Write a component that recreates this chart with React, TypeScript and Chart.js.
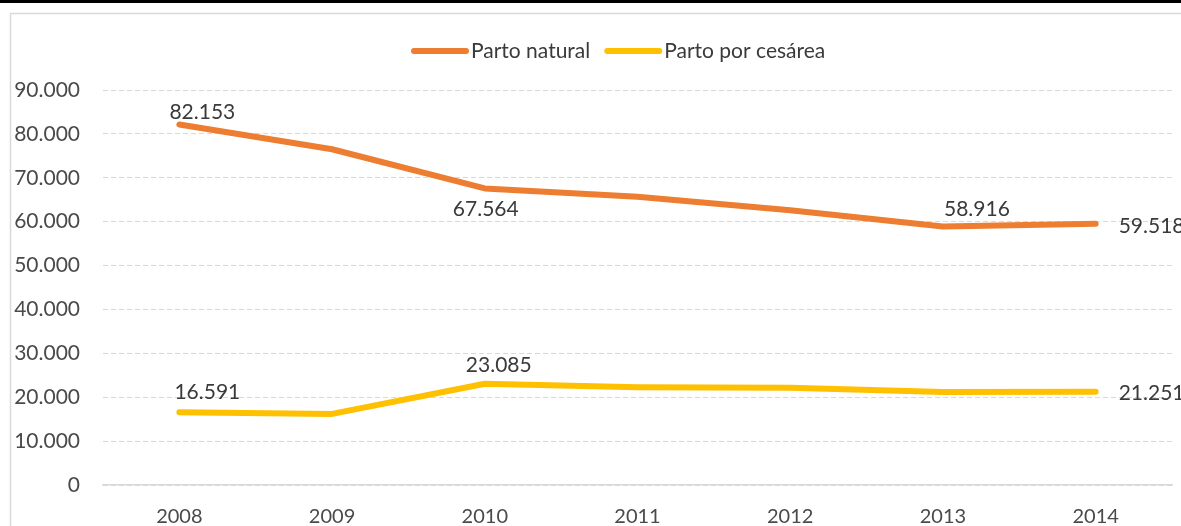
import React, { useEffect, useRef } from "react";
import { Chart, registerables } from "chart.js";

Chart.register(...registerables);

// ---- data ----
const years = ["2008", "2009", "2010", "2011", "2012", "2013", "2014"];
const partoNatural = [82153, 76500, 67564, 65700, 62600, 58916, 59518];
const partoCesarea = [16591, 16200, 23085, 22250, 22150, 21200, 21251];
const naturalLabelShown = [true, false, true, false, false, true, true];
const cesareaLabelShown = [true, false, true, false, false, false, true];
const seriesNames = ["Parto natural", "Parto por cesárea"];
const yMax = 90000;
const yStep = 10000;

// ---- styles / layout ----
const ORANGE = "#ED7D31";
const YELLOW = "#FFC000";
const FONT = "Lato, 'Open Sans', sans-serif";
// label offsets relative to the point: [dx, dy, align]
const LABEL_OFFSETS: Record<number, [number, number, CanvasTextAlign]>[] = [
  { 0: [23, -12, "center"], 2: [1, 21, "center"], 5: [34, -17, "center"], 6: [23, 2, "left"] },
  { 0: [28, -20, "center"], 2: [14, -18, "center"], 6: [23, 2, "left"] },
];
const LABEL_SHOWN = [naturalLabelShown, cesareaLabelShown];

const fmt = (v: number) =>
  Math.round(v)
    .toString()
    .replace(/\B(?=(\d{3})+(?!\d))/g, ".");

const decorPlugin = {
  id: "decor",
  beforeDraw(chart: any) {
    const ctx = chart.ctx as CanvasRenderingContext2D;
    ctx.save();
    ctx.fillStyle = "#ffffff";
    ctx.fillRect(0, 0, chart.width, chart.height);
    ctx.strokeStyle = "#d9d9d9";
    ctx.lineWidth = 1.5;
    ctx.beginPath();
    ctx.moveTo(10.5, chart.height + 5);
    ctx.lineTo(10.5, 13.5);
    ctx.lineTo(chart.width + 5, 13.5);
    ctx.stroke();
    ctx.fillStyle = "#000000";
    ctx.fillRect(0, 0, chart.width, 3);
    ctx.restore();
  },
  afterDatasetsDraw(chart: any) {
    const ctx = chart.ctx as CanvasRenderingContext2D;
    ctx.save();
    ctx.font = `21px ${FONT}`;
    ctx.fillStyle = "#3a3a3a";
    ctx.textBaseline = "middle";
    chart.data.datasets.forEach((ds: any, di: number) => {
      const meta = chart.getDatasetMeta(di);
      meta.data.forEach((pt: any, i: number) => {
        if (!LABEL_SHOWN[di][i]) return;
        const off = LABEL_OFFSETS[di][i] || [0, -18, "center"];
        ctx.textAlign = off[2];
        ctx.fillText(fmt(ds.data[i]), pt.x + off[0], pt.y + off[1]);
      });
    });
    ctx.restore();
  },
  afterDraw(chart: any) {
    const ctx = chart.ctx as CanvasRenderingContext2D;
    ctx.save();
    ctx.font = `21px ${FONT}`;
    ctx.textBaseline = "middle";
    ctx.textAlign = "left";
    const y = 51;
    let x = 412;
    chart.data.datasets.forEach((ds: any) => {
      ctx.strokeStyle = ds.borderColor;
      ctx.lineWidth = 6;
      ctx.lineCap = "round";
      ctx.beginPath();
      ctx.moveTo(x + 2, y);
      ctx.lineTo(x + 54, y);
      ctx.stroke();
      ctx.fillStyle = "#3a3a3a";
      ctx.fillText(ds.label, x + 59, y);
      x += 59 + ctx.measureText(ds.label).width + 15;
    });
    ctx.restore();
  },
};

export default function App() {
  const ref = useRef<HTMLCanvasElement | null>(null);
  useEffect(() => {
    document.body.style.margin = "0";
    const canvas = ref.current;
    if (!canvas) return;
    const chart = new Chart(canvas, {
      type: "line",
      data: {
        labels: years,
        datasets: [
          {
            label: seriesNames[0],
            data: partoNatural,
            borderColor: ORANGE,
            backgroundColor: ORANGE,
            borderWidth: 6,
            pointRadius: 0,
            tension: 0,
            borderCapStyle: "round",
            borderJoinStyle: "round",
          },
          {
            label: seriesNames[1],
            data: partoCesarea,
            borderColor: YELLOW,
            backgroundColor: YELLOW,
            borderWidth: 6,
            pointRadius: 0,
            tension: 0,
            borderCapStyle: "round",
            borderJoinStyle: "round",
          },
        ],
      },
      options: {
        animation: false,
        responsive: false,
        maintainAspectRatio: false,
        layout: { padding: { top: 90, right: 9, left: 0, bottom: 0 } },
        plugins: {
          legend: { display: false },
          tooltip: { enabled: false },
          title: { display: false },
        },
        scales: {
          x: {
            type: "category",
            offset: true,
            grid: { display: false, drawTicks: false },
            border: { display: true, color: "#d9d9d9", width: 1.5 },
            ticks: {
              color: "#4a4a4a",
              font: { family: FONT, size: 20 },
              padding: 20,
              maxRotation: 0,
              autoSkip: false,
            },
            afterFit: (scale: any) => {
              scale.height = 41;
            },
          },
          y: {
            min: 0,
            max: yMax,
            grid: { color: "#d9d9d9", lineWidth: 1, drawTicks: false },
            border: { display: false, dash: [5, 3] },
            ticks: {
              stepSize: yStep,
              color: "#4a4a4a",
              font: { family: FONT, size: 21 },
              padding: 23,
              callback: (v: any) => fmt(Number(v)),
            },
            afterFit: (scale: any) => {
              scale.width = 103;
            },
          },
        },
      },
      plugins: [decorPlugin],
    });
    return () => chart.destroy();
  }, []);
  return (
    <div style={{ position: "fixed", left: 0, top: 0, width: 1181, height: 526 }}>
      <canvas ref={ref} width={1181} height={526} style={{ display: "block", width: 1181, height: 526 }} />
    </div>
  );
}
